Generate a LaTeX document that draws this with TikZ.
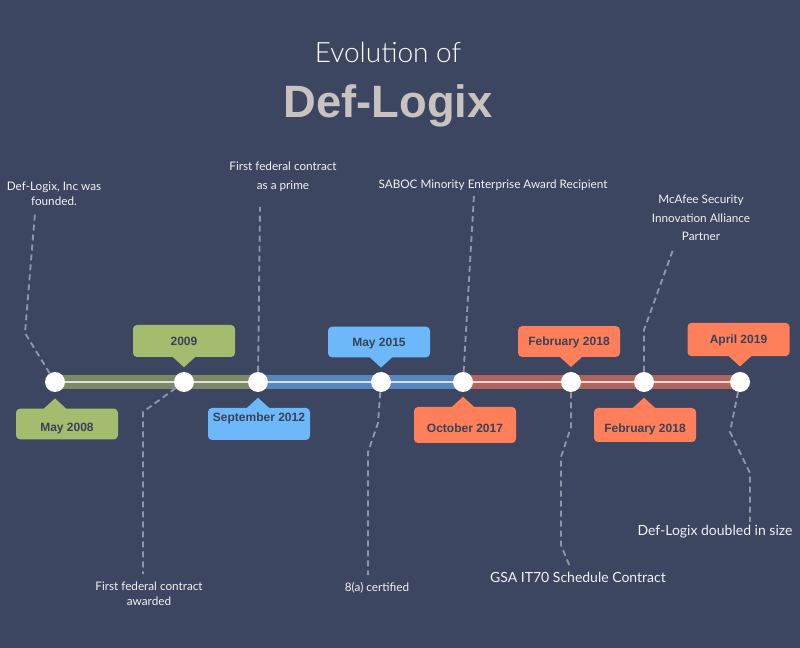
\documentclass[tikz,border=0pt]{standalone}
\usepackage{fontspec}
\setmainfont{Lato}
\newfontfamily\arialfont{Liberation Sans}
\newfontfamily\lightfont{Lato Light}
\definecolor{bgcolor}{HTML}{3C4661}
\definecolor{greenbox}{HTML}{A4BC6E}
\definecolor{greenbar}{HTML}{7A8A67}
\definecolor{bluebox}{HTML}{6CB8F8}
\definecolor{bluebar}{HTML}{5886BF}
\definecolor{redbox}{HTML}{FF7F5B}
\definecolor{redbar}{HTML}{B0645E}
\definecolor{leadgray}{HTML}{8E96AA}
\definecolor{boxtext}{HTML}{3A4257}
\definecolor{notetext}{HTML}{F2F2F2}
\definecolor{titlegray}{HTML}{C8C3C0}

\begin{document}
\begin{tikzpicture}[x=0.75pt, y=-0.75pt,
    milestone/.style={circle, fill=white, inner sep=0pt, minimum size=15pt},
    datebox/.style={rounded corners=3pt, inner sep=0pt, minimum width=76.5pt, minimum height=23pt, text height=8.5pt, text depth=2pt, text=boxtext, font=\arialfont\bfseries\fontsize{9}{11}\selectfont},
    lowtext/.style={text height=13pt, text depth=2pt},
    note/.style={align=center, text=notetext, font=\fontsize{8.8}{11}\selectfont},
    widenote/.style={align=center, text=notetext, font=\fontsize{8.8}{14}\selectfont},
    bignote/.style={text=notetext, font=\fontsize{10.5}{13}\selectfont},
    leader/.style={draw=leadgray, line width=1.4pt, dash pattern=on 4.5pt off 3pt}]
\fill[bgcolor] (0,0) rectangle (800,648);
\useasboundingbox (0,0) rectangle (800,648);
\node[anchor=base, text=white, font=\lightfont\fontsize{21}{25}\selectfont] (evo) at (388,63) {Evolution of};
\node[anchor=base, text=titlegray, font=\arialfont\bfseries\fontsize{34}{40}\selectfont] (deflogix) at (388,118) {Def-Logix};
\fill[greenbar] (55,375) rectangle (258,389);
\fill[bluebar] (258,375) rectangle (463,389);
\fill[redbar] (463,375) rectangle (740,389);
\draw[white, opacity=0.75, line width=1.5pt] (55,382) -- (740,382);
\node[milestone] (m1) at (55,382) {};
\node[milestone] (m2) at (184,382) {};
\node[milestone] (m3) at (258,382) {};
\node[milestone] (m4) at (381,382) {};
\node[milestone] (m5) at (463,382) {};
\node[milestone] (m6) at (571,382) {};
\node[milestone] (m7) at (644,382) {};
\node[milestone] (m8) at (740,382) {};
\coordinate (e1) at (35,213);
\coordinate (e2) at (143,574);
\coordinate (e3) at (260,207);
\coordinate (e4) at (368,575);
\coordinate (e5) at (474,195);
\coordinate (e6) at (570,567);
\coordinate (e7) at (674,247);
\coordinate (e8) at (750,522);
\draw[leader] (m1) -- (25,333) -- (e1);
\draw[leader] (m2) -- (143,412) -- (e2);
\draw[leader] (m3) -- (e3);
\draw[leader] (m4) -- (378,423) -- (368,452) -- (e4);
\draw[leader] (m5) -- (e5);
\draw[leader] (m6) -- (571,427) -- (561,457) -- (561,545) -- (e6);
\draw[leader] (m7) -- (644,330) -- (e7);
\draw[leader] (m8) -- (730,432) -- (750,473) -- (e8);
\node[datebox, lowtext, fill=greenbox] (may08) at (67,424) {May 2008};
\fill[greenbox] (may08.north -| m1) ++(-12,1) -- ++(12,-11) -- ++(12,11) -- cycle;
\node[datebox, fill=greenbox, minimum height=24pt] (y09) at (184,341) {2009};
\fill[greenbox] (y09.south -| m2) ++(-12,-1) -- ++(12,11) -- ++(12,-11) -- cycle;
\node[datebox, fill=bluebox, minimum height=24pt, text height=0pt, text depth=4pt] (sep12) at (259,424) {September 2012};
\fill[bluebox] (sep12.north -| m3) ++(-12,1) -- ++(12,-11) -- ++(12,11) -- cycle;
\node[datebox, fill=bluebox] (may15) at (379,342) {May 2015};
\fill[bluebox] (may15.south -| m4) ++(-12,-1) -- ++(12,11) -- ++(12,-11) -- cycle;
\node[datebox, lowtext, fill=redbox, minimum height=27pt] (oct17) at (465,425) {October 2017};
\fill[redbox] (oct17.north -| m5) ++(-12,1) -- ++(12,-11) -- ++(12,11) -- cycle;
\node[datebox, fill=redbox] (feb18a) at (569,341.5) {February 2018};
\fill[redbox] (feb18a.south -| m6) ++(-12,-1) -- ++(12,11) -- ++(12,-11) -- cycle;
\node[datebox, lowtext, fill=redbox, minimum height=25.5pt] (feb18b) at (645,425) {February 2018};
\fill[redbox] (feb18b.north -| m7) ++(-12,1) -- ++(12,-11) -- ++(12,11) -- cycle;
\node[datebox, fill=redbox, minimum height=25pt] (apr19) at (738.5,339.5) {April 2019};
\fill[redbox] (apr19.south -| m8) ++(-12,-1) -- ++(12,11) -- ++(12,-11) -- cycle;
\node[note] (founded) at (54,194) {Def-Logix, Inc was\\founded.};
\node[widenote] (prime) at (283,177) {First federal contract\\as a prime};
\node[note] (saboc) at (493,185) {SABOC Minority Enterprise Award Recipient};
\node[widenote] (mcafee) at (701,218) {McAfee Security\\Innovation Alliance\\Partner};
\node[note] (awarded) at (149,594) {First federal contract\\awarded};
\node[note] (certified) at (377,588) {8(a) certified};
\node[bignote] (gsa) at (578,577) {GSA IT70 Schedule Contract};
\node[bignote] (doubled) at (715,532) {Def-Logix doubled in size};
\end{tikzpicture}
\end{document}
